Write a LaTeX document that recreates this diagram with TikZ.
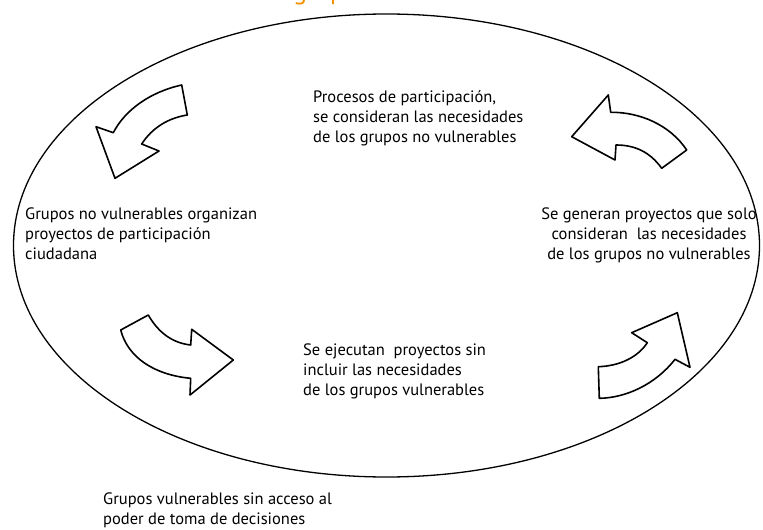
\documentclass[tikz,border=0pt]{standalone}
\usepackage{fontspec}
\setmainfont{PT Sans}
\usepackage{tikz}
\usetikzlibrary{positioning}
\definecolor{TitleOrange}{RGB}{243,146,0}

\begin{document}
\begin{tikzpicture}[x=1pt, y=-1pt,
  stagetext/.style={inner sep=0pt, anchor=base west, align=left, font=\fontsize{16.5}{20}\selectfont},
  cyclearrow/.style={draw=black, line width=1.6pt, line join=round, fill=white},
  cycleline/.style={draw=black, line width=1.3pt}
]
\useasboundingbox (0,0) rectangle (763,530);

% Title (cut off at the top)
\node[anchor=base west, inner sep=0pt, text=TitleOrange, font=\fontsize{26}{30}\selectfont] (title) at (293,-0.5) {grupos};

% Cycle
\draw[cycleline] (386.5,245.5) ellipse [x radius=373, y radius=231.5];

% Stages (anchored on the baseline of their last line)
\node[stagetext] (procesos) at (313,142) {Procesos de participación,\\se consideran las necesidades\\de los grupos no vulnerables};
\node[stagetext] (organizan) at (25,259) {Grupos no vulnerables organizan\\proyectos de participación\\ciudadana};
\node[stagetext, align=center, anchor=base] (generan) at (649,259) {Se generan proyectos que solo\\consideran\ \ las necesidades\\de los grupos no vulnerables};
\node[stagetext] (ejecutan) at (303,395) {Se ejecutan\ \ proyectos sin\\incluir las necesidades\\de los grupos vulnerables};
\node[stagetext] (sinacceso) at (103,524) {Grupos vulnerables sin acceso al\\poder de toma de decisiones};

% Arrows
% top left
\draw[cyclearrow] (181.7,85) .. controls (150,92) and (125,110) .. (113.3,132.7)
  -- (96,126.7) -- (115,178.3) -- (159,151) -- (141.7,144)
  .. controls (152,128) and (168,118) .. (187.3,115) -- cycle;
% top right
\draw[cyclearrow] (571.7,136.7) -- (608.3,95) -- (610.7,112.3)
  .. controls (640,112) and (670,125) .. (686.7,150) -- (661.7,168.3)
  .. controls (650,152) and (635,145) .. (616,145) -- (615,160) -- cycle;
% bottom left
\draw[cyclearrow] (120.7,330) -- (148.3,315)
  .. controls (158,332) and (172,343) .. (190.7,345) -- (191.7,329.3)
  -- (233.3,360) -- (190,395) -- (190.7,378.3)
  .. controls (155,375) and (128,358) .. cycle;
% bottom right
\draw[cyclearrow] (598.3,366.7) .. controls (620,366) and (638,357) .. (647.3,342.7)
  -- (631.7,332.7) -- (677.3,312.7) -- (690,367.3) -- (675,359.3)
  .. controls (655,385) and (625,398) .. (599.3,398.3) -- cycle;

\end{tikzpicture}
\end{document}
